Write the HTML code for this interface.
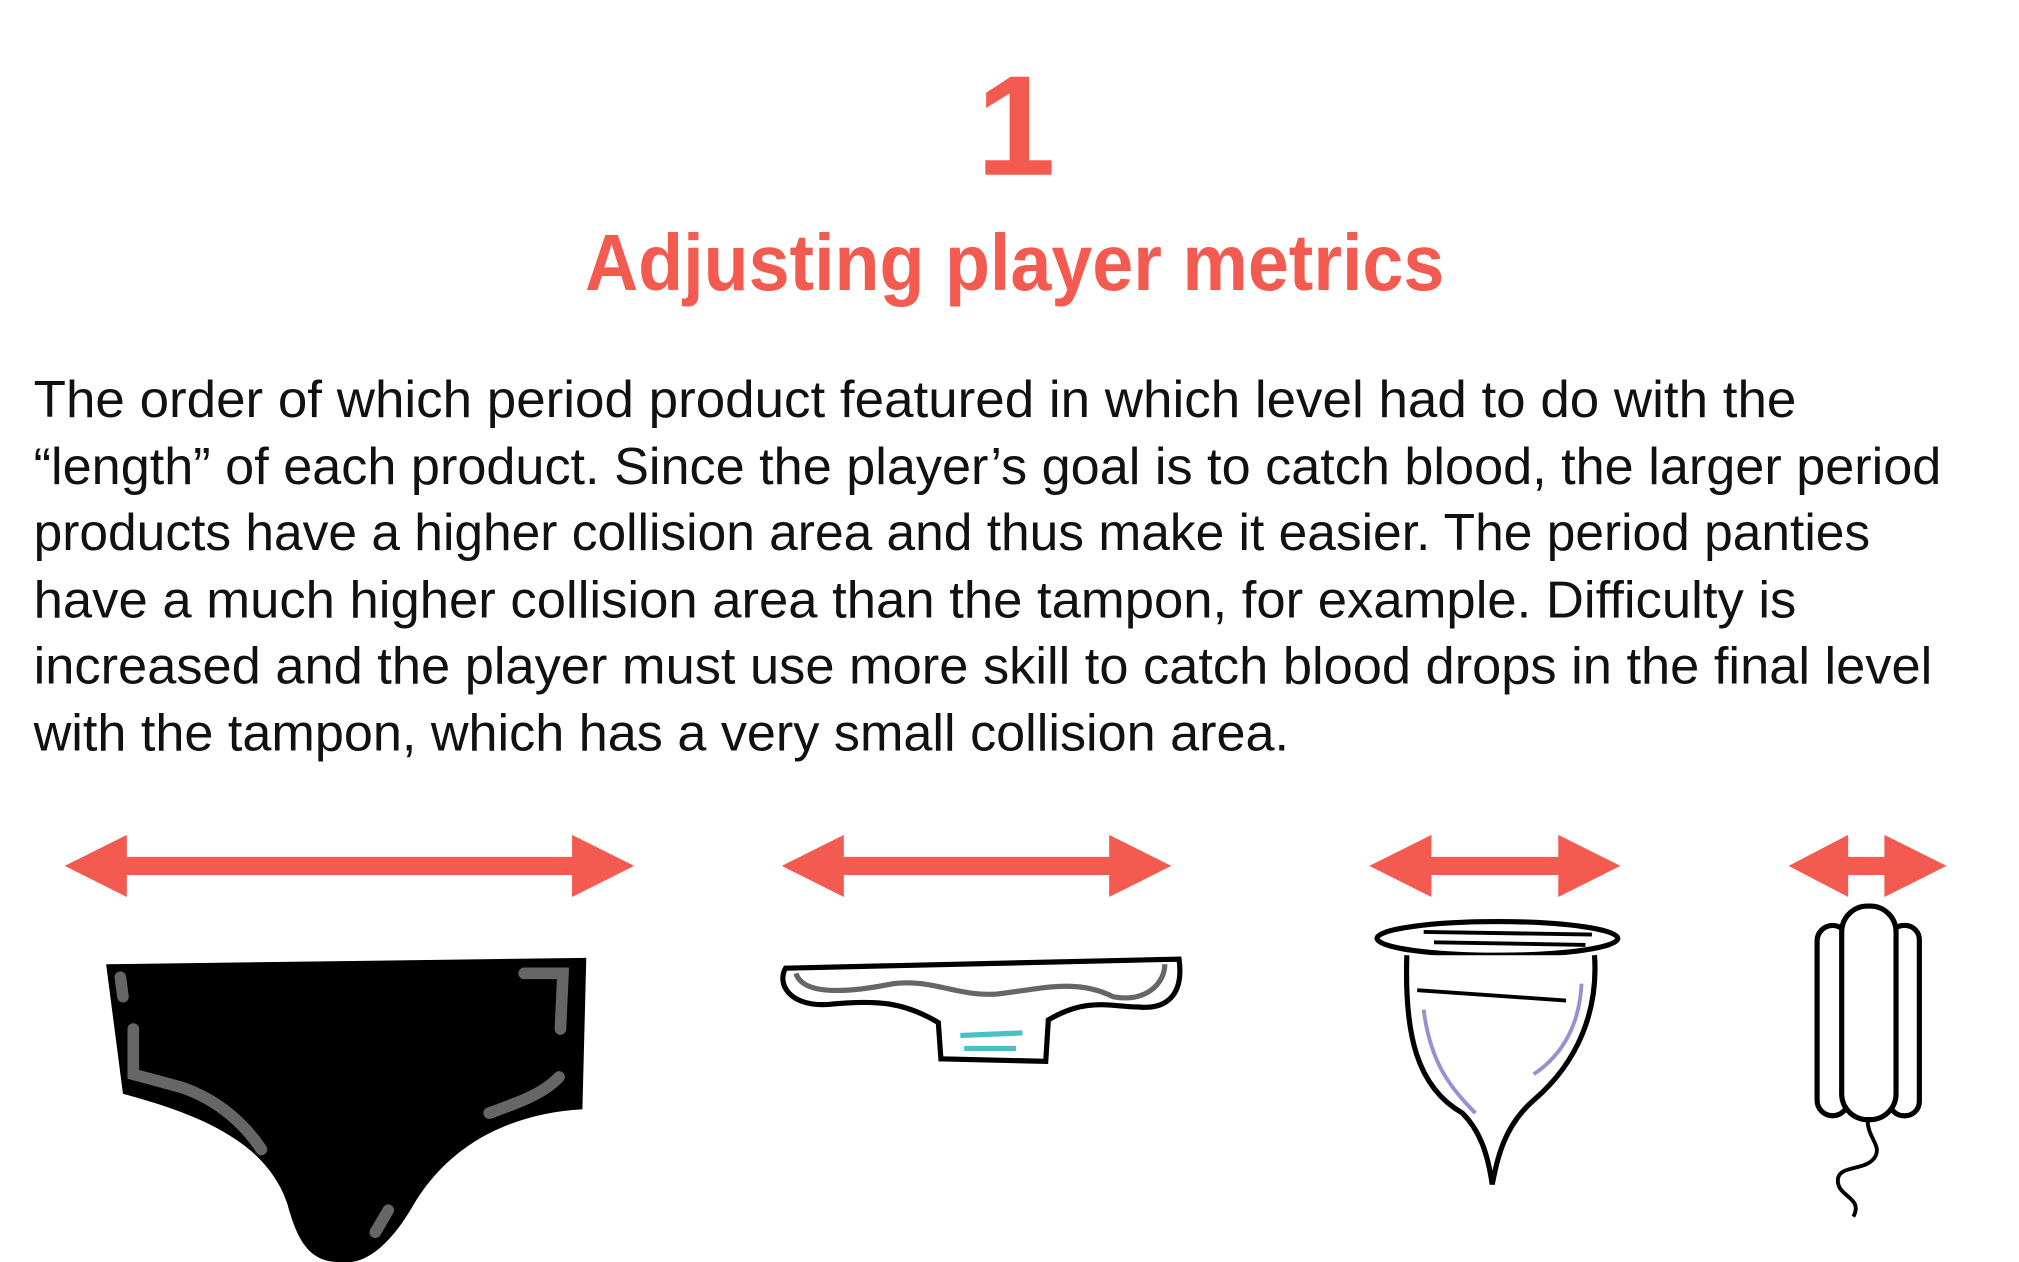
<!DOCTYPE html>
<html><head><meta charset="utf-8"><style>
html,body{margin:0;padding:0;background:#fff;width:2019px;height:1262px;overflow:hidden}
svg{display:block}
</style></head><body>
<svg width="2019" height="1262" viewBox="0 0 1560 975" preserveAspectRatio="none" xmlns="http://www.w3.org/2000/svg">
<g font-family="Liberation Sans, sans-serif">
<text x="785" y="135" text-anchor="middle" font-size="110" font-weight="bold" fill="#f35a50">1</text>
<text x="452" y="224" font-size="62" font-weight="bold" fill="#f35a50" textLength="664" lengthAdjust="spacingAndGlyphs">Adjusting player metrics</text>
<g font-size="40" fill="#111" lengthAdjust="spacingAndGlyphs">
<text x="26" y="322" textLength="1362" lengthAdjust="spacingAndGlyphs">The order of which period product featured in which level had to do with the</text>
<text x="26" y="374" textLength="1474" lengthAdjust="spacingAndGlyphs">“length” of each product. Since the player’s goal is to catch blood, the larger period</text>
<text x="26" y="425" textLength="1419" lengthAdjust="spacingAndGlyphs">products have a higher collision area and thus make it easier. The period panties</text>
<text x="26" y="477" textLength="1362" lengthAdjust="spacingAndGlyphs">have a much higher collision area than the tampon, for example. Difficulty is</text>
<text x="26" y="528" textLength="1467" lengthAdjust="spacingAndGlyphs">increased and the player must use more skill to catch blood drops in the final level</text>
<text x="26" y="580" textLength="970" lengthAdjust="spacingAndGlyphs">with the tampon, which has a very small collision area.</text>
</g>
</g>
<g fill="#f35a50">
<path d="M50 669 L98 645 L98 662 L442 662 L442 645 L490 669 L442 693 L442 676 L98 676 L98 693 Z"/>
<path d="M604 669 L652 645 L652 662 L857 662 L857 645 L905 669 L857 693 L857 676 L652 676 L652 693 Z"/>
<path d="M1058 669 L1106 645 L1106 662 L1204 662 L1204 645 L1252 669 L1204 693 L1204 676 L1106 676 L1106 693 Z"/>
<path d="M1382 669 L1428 645 L1428 662 L1456 662 L1456 645 L1504 669 L1456 693 L1456 676 L1428 676 L1428 693 Z"/>
</g>
<!-- panties -->
<path d="M82 745 L453 740 L450 857 C400 860 350 880 320 930 C300 965 280 978 262 975 C240 975 230 960 222 930 C205 880 150 860 95 845 Z" fill="#000"/>
<g stroke="#666" stroke-width="9" stroke-linecap="round" fill="none">
<path d="M93 755 L95 770 M103 795 L103 830 L140 840 C170 850 190 870 202 888"/>
<path d="M405 752 L435 752 L433 795"/>
<path d="M378 860 C400 852 420 845 432 832"/>
<path d="M300 935 L290 952"/>
</g>
<!-- pad -->
<path d="M607 748 L911 741 C915 770 900 780 880 778 C860 778 840 770 810 788 L808 820 L727 818 L725 790 C700 775 680 772 640 776 C610 778 600 760 607 748 Z" fill="#fff" stroke="#000" stroke-width="4"/>
<path d="M615 752 C620 768 650 768 690 760 C720 756 740 770 770 768 C800 765 830 755 860 770 C885 775 900 760 900 745" fill="none" stroke="#666" stroke-width="4"/>
<path d="M742 800 L790 798 M745 810 L785 810" stroke="#4dbfc4" stroke-width="4"/>
<!-- cup -->
<ellipse cx="1157" cy="725" rx="93" ry="13" fill="#fff" stroke="#000" stroke-width="4"/>
<path d="M1100 720 L1230 722 M1108 728 L1225 730" stroke="#000" stroke-width="3"/>
<path d="M1087 738 C1085 800 1095 840 1130 860 C1145 875 1150 895 1153 915 C1157 895 1162 870 1185 850 C1220 820 1235 780 1232 738" fill="#fff" stroke="#000" stroke-width="4"/>
<path d="M1095 765 L1210 773" stroke="#000" stroke-width="3"/>
<path d="M1100 780 C1105 820 1120 840 1140 860 M1222 760 C1220 800 1200 820 1185 830" fill="none" stroke="#9a8fd0" stroke-width="3"/>
<!-- tampon -->
<rect x="1404" y="715" width="24" height="147" rx="12" fill="#fff" stroke="#000" stroke-width="4"/>
<rect x="1460" y="715" width="23" height="147" rx="11" fill="#fff" stroke="#000" stroke-width="4"/>
<rect x="1423" y="700" width="42" height="165" rx="20" fill="#fff" stroke="#000" stroke-width="4"/>
<path d="M1443 865 C1443 880 1455 885 1448 895 C1440 905 1420 900 1420 912 C1420 925 1440 925 1432 940" fill="none" stroke="#000" stroke-width="3"/>
</svg>
</body></html>
